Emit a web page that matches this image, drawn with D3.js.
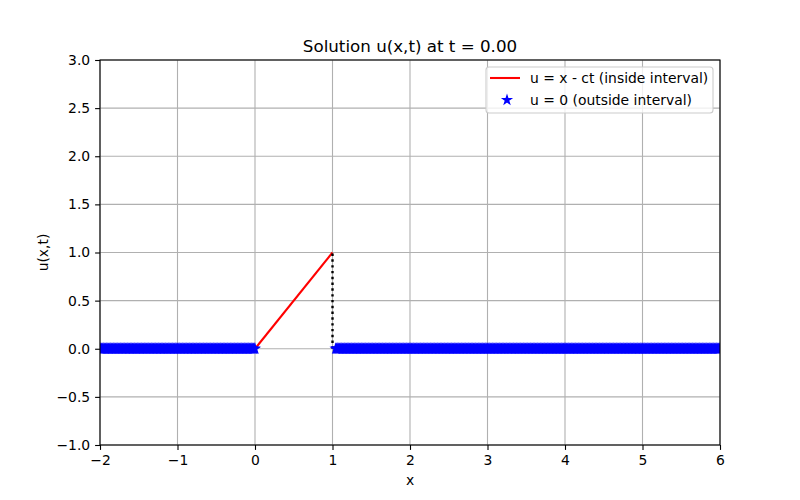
<!DOCTYPE html>
<html>
<head>
<meta charset="utf-8">
<script src="https://cdn.jsdelivr.net/npm/d3@7/dist/d3.min.js"></script>
<style>
  body { margin: 0; background: #fff; }
  svg { font-family: "DejaVu Sans", sans-serif; }
</style>
</head>
<body>
<svg id="chart" width="800" height="500"></svg>
<script>
// ---- data ----
const title = "Solution u(x,t) at t = 0.00";
const xLabel = "x";
const yLabel = "u(x,t)";
const xTicks = [-2, -1, 0, 1, 2, 3, 4, 5, 6];
const yTicks = [-1.0, -0.5, 0.0, 0.5, 1.0, 1.5, 2.0, 2.5, 3.0];
const xDomain = [-2, 6];
const yDomain = [-1, 3];

// red line: u = x - ct inside interval [0, 1]
const insideX = [0, 1];
const insideU = [0, 1];

// black dotted jump at x = 1
const jumpX = [1, 1];
const jumpU = [0, 1];

// blue stars: u = 0 outside interval (dense sample positions)
const outsideLeftX = [
-2,-1.99,-1.98,-1.97,-1.96,-1.95,-1.94,-1.93,-1.92,-1.91,
-1.9,-1.89,-1.88,-1.87,-1.86,-1.85,-1.84,-1.83,-1.82,-1.81,
-1.8,-1.79,-1.78,-1.77,-1.76,-1.75,-1.74,-1.73,-1.72,-1.71,
-1.7,-1.69,-1.68,-1.67,-1.66,-1.65,-1.64,-1.63,-1.62,-1.61,
-1.6,-1.59,-1.58,-1.57,-1.56,-1.55,-1.54,-1.53,-1.52,-1.51,
-1.5,-1.49,-1.48,-1.47,-1.46,-1.45,-1.44,-1.43,-1.42,-1.41,
-1.4,-1.39,-1.38,-1.37,-1.36,-1.35,-1.34,-1.33,-1.32,-1.31,
-1.3,-1.29,-1.28,-1.27,-1.26,-1.25,-1.24,-1.23,-1.22,-1.21,
-1.2,-1.19,-1.18,-1.17,-1.16,-1.15,-1.14,-1.13,-1.12,-1.11,
-1.1,-1.09,-1.08,-1.07,-1.06,-1.05,-1.04,-1.03,-1.02,-1.01,
-1,-0.99,-0.98,-0.97,-0.96,-0.95,-0.94,-0.93,-0.92,-0.91,
-0.9,-0.89,-0.88,-0.87,-0.86,-0.85,-0.84,-0.83,-0.82,-0.81,
-0.8,-0.79,-0.78,-0.77,-0.76,-0.75,-0.74,-0.73,-0.72,-0.71,
-0.7,-0.69,-0.68,-0.67,-0.66,-0.65,-0.64,-0.63,-0.62,-0.61,
-0.6,-0.59,-0.58,-0.57,-0.56,-0.55,-0.54,-0.53,-0.52,-0.51,
-0.5,-0.49,-0.48,-0.47,-0.46,-0.45,-0.44,-0.43,-0.42,-0.41,
-0.4,-0.39,-0.38,-0.37,-0.36,-0.35,-0.34,-0.33,-0.32,-0.31,
-0.3,-0.29,-0.28,-0.27,-0.26,-0.25,-0.24,-0.23,-0.22,-0.21,
-0.2,-0.19,-0.18,-0.17,-0.16,-0.15,-0.14,-0.13,-0.12,-0.11,
-0.1,-0.09,-0.08,-0.07,-0.06,-0.05,-0.04,-0.03,-0.02,-0.01,
0];
const outsideRightX = [
1.04,1.05,1.06,1.07,1.08,1.09,
1.1,1.11,1.12,1.13,1.14,1.15,1.16,1.17,1.18,1.19,
1.2,1.21,1.22,1.23,1.24,1.25,1.26,1.27,1.28,1.29,
1.3,1.31,1.32,1.33,1.34,1.35,1.36,1.37,1.38,1.39,
1.4,1.41,1.42,1.43,1.44,1.45,1.46,1.47,1.48,1.49,
1.5,1.51,1.52,1.53,1.54,1.55,1.56,1.57,1.58,1.59,
1.6,1.61,1.62,1.63,1.64,1.65,1.66,1.67,1.68,1.69,
1.7,1.71,1.72,1.73,1.74,1.75,1.76,1.77,1.78,1.79,
1.8,1.81,1.82,1.83,1.84,1.85,1.86,1.87,1.88,1.89,
1.9,1.91,1.92,1.93,1.94,1.95,1.96,1.97,1.98,1.99,
2,2.01,2.02,2.03,2.04,2.05,2.06,2.07,2.08,2.09,
2.1,2.11,2.12,2.13,2.14,2.15,2.16,2.17,2.18,2.19,
2.2,2.21,2.22,2.23,2.24,2.25,2.26,2.27,2.28,2.29,
2.3,2.31,2.32,2.33,2.34,2.35,2.36,2.37,2.38,2.39,
2.4,2.41,2.42,2.43,2.44,2.45,2.46,2.47,2.48,2.49,
2.5,2.51,2.52,2.53,2.54,2.55,2.56,2.57,2.58,2.59,
2.6,2.61,2.62,2.63,2.64,2.65,2.66,2.67,2.68,2.69,
2.7,2.71,2.72,2.73,2.74,2.75,2.76,2.77,2.78,2.79,
2.8,2.81,2.82,2.83,2.84,2.85,2.86,2.87,2.88,2.89,
2.9,2.91,2.92,2.93,2.94,2.95,2.96,2.97,2.98,2.99,
3,3.01,3.02,3.03,3.04,3.05,3.06,3.07,3.08,3.09,
3.1,3.11,3.12,3.13,3.14,3.15,3.16,3.17,3.18,3.19,
3.2,3.21,3.22,3.23,3.24,3.25,3.26,3.27,3.28,3.29,
3.3,3.31,3.32,3.33,3.34,3.35,3.36,3.37,3.38,3.39,
3.4,3.41,3.42,3.43,3.44,3.45,3.46,3.47,3.48,3.49,
3.5,3.51,3.52,3.53,3.54,3.55,3.56,3.57,3.58,3.59,
3.6,3.61,3.62,3.63,3.64,3.65,3.66,3.67,3.68,3.69,
3.7,3.71,3.72,3.73,3.74,3.75,3.76,3.77,3.78,3.79,
3.8,3.81,3.82,3.83,3.84,3.85,3.86,3.87,3.88,3.89,
3.9,3.91,3.92,3.93,3.94,3.95,3.96,3.97,3.98,3.99,
4,4.01,4.02,4.03,4.04,4.05,4.06,4.07,4.08,4.09,
4.1,4.11,4.12,4.13,4.14,4.15,4.16,4.17,4.18,4.19,
4.2,4.21,4.22,4.23,4.24,4.25,4.26,4.27,4.28,4.29,
4.3,4.31,4.32,4.33,4.34,4.35,4.36,4.37,4.38,4.39,
4.4,4.41,4.42,4.43,4.44,4.45,4.46,4.47,4.48,4.49,
4.5,4.51,4.52,4.53,4.54,4.55,4.56,4.57,4.58,4.59,
4.6,4.61,4.62,4.63,4.64,4.65,4.66,4.67,4.68,4.69,
4.7,4.71,4.72,4.73,4.74,4.75,4.76,4.77,4.78,4.79,
4.8,4.81,4.82,4.83,4.84,4.85,4.86,4.87,4.88,4.89,
4.9,4.91,4.92,4.93,4.94,4.95,4.96,4.97,4.98,4.99,
5,5.01,5.02,5.03,5.04,5.05,5.06,5.07,5.08,5.09,
5.1,5.11,5.12,5.13,5.14,5.15,5.16,5.17,5.18,5.19,
5.2,5.21,5.22,5.23,5.24,5.25,5.26,5.27,5.28,5.29,
5.3,5.31,5.32,5.33,5.34,5.35,5.36,5.37,5.38,5.39,
5.4,5.41,5.42,5.43,5.44,5.45,5.46,5.47,5.48,5.49,
5.5,5.51,5.52,5.53,5.54,5.55,5.56,5.57,5.58,5.59,
5.6,5.61,5.62,5.63,5.64,5.65,5.66,5.67,5.68,5.69,
5.7,5.71,5.72,5.73,5.74,5.75,5.76,5.77,5.78,5.79,
5.8,5.81,5.82,5.83,5.84,5.85,5.86,5.87,5.88,5.89,
5.9,5.91,5.92,5.93,5.94,5.95,5.96,5.97,5.98,5.99,
6];
const outsideU = 0;

const legendLabels = ["u = x - ct (inside interval)", "u = 0 (outside interval)"];

// ---- layout ----
const W = 800, H = 500;
const m = { left: 100, right: 80, top: 60, bottom: 55 };
const svg = d3.select("#chart");
const x = d3.scaleLinear().domain(xDomain).range([m.left, W - m.right]);
const y = d3.scaleLinear().domain(yDomain).range([H - m.bottom, m.top]);

// clip
svg.append("defs").append("clipPath").attr("id", "clip")
  .append("rect").attr("x", m.left).attr("y", m.top)
  .attr("width", W - m.left - m.right).attr("height", H - m.top - m.bottom);

// grid
const grid = svg.append("g");
grid.selectAll(".gx").data(xTicks).enter().append("line")
  .attr("x1", d => x(d)).attr("x2", d => x(d))
  .attr("y1", m.top).attr("y2", H - m.bottom)
  .attr("stroke", "#b0b0b0").attr("stroke-width", 1.1);
grid.selectAll(".gy").data(yTicks).enter().append("line")
  .attr("y1", d => y(d)).attr("y2", d => y(d))
  .attr("x1", m.left).attr("x2", W - m.right)
  .attr("stroke", "#b0b0b0").attr("stroke-width", 1.1);

const fmtX = d => d < 0 ? "\u2212" + Math.abs(d) : String(d);
const fmtY = d => (d < 0 ? "\u2212" : "") + Math.abs(d).toFixed(1);

const plot = svg.append("g").attr("clip-path", "url(#clip)");

// red line
const line = d3.line().x(d => x(d[0])).y(d => y(d[1]));
plot.append("path")
  .datum(insideX.map((v, i) => [v, insideU[i]]))
  .attr("d", line).attr("fill", "none")
  .attr("stroke", "#ff0000").attr("stroke-width", 2.08);

// black dotted
plot.append("path")
  .datum(jumpX.map((v, i) => [v, jumpU[i]]))
  .attr("d", line).attr("fill", "none")
  .attr("stroke", "#000").attr("stroke-width", 2.4)
  .attr("stroke-dasharray", "2.4,3.4");

// star path
function starPath(r) {
  const inner = r * 0.381966;
  const pts = [];
  for (let i = 0; i < 10; i++) {
    const a = -Math.PI / 2 + i * Math.PI / 5;
    const rr = i % 2 === 0 ? r : inner;
    pts.push([rr * Math.cos(a), rr * Math.sin(a)]);
  }
  return "M" + pts.map(p => p[0].toFixed(3) + "," + p[1].toFixed(3)).join("L") + "Z";
}
const star = starPath(4.17);
const allOutside = outsideLeftX.concat(outsideRightX);
plot.selectAll(".star").data(allOutside).enter().append("path")
  .attr("d", star)
  .attr("transform", d => `translate(${x(d)},${y(outsideU)})`)
  .attr("fill", "#0000ff").attr("stroke", "#0000ff").attr("stroke-width", 1.39)
  .attr("stroke-linejoin", "miter");

// axes
const xAxis = d3.axisBottom(x).tickValues(xTicks).tickFormat(fmtX).tickSizeOuter(0).tickSize(4.9).tickPadding(4.9);
const yAxis = d3.axisLeft(y).tickValues(yTicks).tickFormat(fmtY).tickSizeOuter(0).tickSize(4.9).tickPadding(4.9);
const gx = svg.append("g").attr("transform", `translate(0,${H - m.bottom})`).call(xAxis);
const gy = svg.append("g").attr("transform", `translate(${m.left},0)`).call(yAxis);
[gx, gy].forEach(g => {
  g.select(".domain").remove();
  g.selectAll("line").attr("stroke", "#000").attr("stroke-width", 1.1);
  g.selectAll("text").attr("font-size", "13.9px").attr("fill", "#000")
    .attr("font-family", "DejaVu Sans, sans-serif");
});

// frame
svg.append("rect").attr("x", m.left).attr("y", m.top)
  .attr("width", W - m.left - m.right).attr("height", H - m.top - m.bottom)
  .attr("fill", "none").attr("stroke", "#000").attr("stroke-width", 1.1);

// labels
svg.append("text").attr("x", (m.left + W - m.right) / 2).attr("y", 52)
  .attr("text-anchor", "middle").attr("font-size", "16.7px").text(title);
svg.append("text").attr("x", (m.left + W - m.right) / 2).attr("y", 485)
  .attr("text-anchor", "middle").attr("font-size", "13.9px").text(xLabel);
svg.append("text").attr("transform", `translate(48,${(m.top + H - m.bottom) / 2}) rotate(-90)`)
  .attr("text-anchor", "middle").attr("font-size", "13.9px").text(yLabel);

// legend
const lg = svg.append("g");
lg.append("rect").attr("x", 486).attr("y", 67).attr("width", 227).attr("height", 46)
  .attr("rx", 3).attr("fill", "#fff").attr("fill-opacity", 0.8)
  .attr("stroke", "#cccccc").attr("stroke-width", 1.1);
lg.append("line").attr("x1", 490).attr("x2", 520).attr("y1", 78).attr("y2", 78)
  .attr("stroke", "#ff0000").attr("stroke-width", 2.08);
lg.append("path").attr("d", star).attr("transform", "translate(507,100)")
  .attr("fill", "#0000ff").attr("stroke", "#0000ff").attr("stroke-width", 1.39);
lg.selectAll(".lt").data(legendLabels).enter().append("text")
  .attr("x", 530).attr("y", (d, i) => 83 + i * 22)
  .attr("font-size", "13.9px").text(d => d);
</script>
</body>
</html>
